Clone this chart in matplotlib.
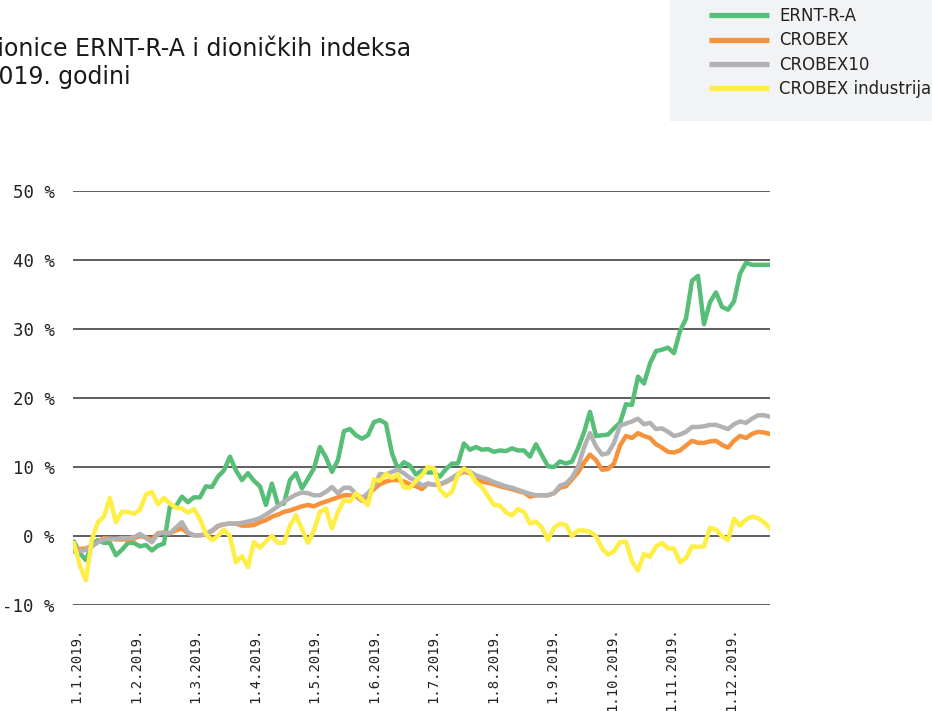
import numpy as np
import matplotlib
matplotlib.use('Agg')
import matplotlib.pyplot as plt
from matplotlib.patches import Rectangle

plt.rcParams['axes.unicode_minus'] = False

# monthly category labels (equal spacing, ~21 trading days each)
months = ['1.1.2019.', '1.2.2019.', '1.3.2019.', '1.4.2019.', '1.5.2019.', '1.6.2019.',
          '1.7.2019.', '1.8.2019.', '1.9.2019.', '1.10.2019.', '1.11.2019.', '1.12.2019.']

# cumulative change in %, sampled roughly every two trading days
ernt = [-0.8, -2.5, -3.5, -1.2, -0.6, -1, -1, -2.8, -2, -1, -1, -1.5, -1.3, -2.1, -1.4, -1.1,
        4.3, 4.3, 5.7, 4.9, 5.6, 5.6, 7.2, 7.1, 8.6, 9.5, 11.5, 9.5, 8.1, 9.1, 8, 7.2,
        4.5, 7.6, 4.5, 4.7, 8.1, 9.1, 6.9, 8.3, 9.8, 12.9, 11.4, 9.3, 11, 15.2, 15.5, 14.6,
        14.1, 14.6, 16.5, 16.8, 16.3, 12, 9.7, 10.7, 10.2, 8.9, 9.5, 9.2, 9.2, 8.6, 9.7, 10.5,
        10.5, 13.4, 12.5, 12.9, 12.5, 12.6, 12.2, 12.4, 12.3, 12.7, 12.4, 12.4, 11.5, 13.3, 11.7, 10.1,
        10, 10.8, 10.5, 10.8, 12.7, 15, 18, 14.5, 14.6, 14.7, 15.6, 16.4, 19.1, 19, 23.1, 22.1,
        25, 26.8, 27, 27.3, 26.5, 29.7, 31.5, 37, 37.7, 30.7, 33.9, 35.3, 33.2, 32.8, 34, 38,
        39.6, 39.3, 39.3, 39.3, 39.3]
crobex = [-2, -1.9, -1.8, -1.4, -0.9, -0.3, -0.4, -0.5, -0.5, -0.5, -0.4, 0, -0.2, -0.5, 0.4, 0.5,
          0.4, 0.8, 1.1, 0.4, 0.1, 0.1, 0.2, 0.7, 1.4, 1.7, 1.8, 1.8, 1.5, 1.5, 1.6, 2,
          2.3, 2.8, 3.1, 3.5, 3.7, 4, 4.3, 4.5, 4.3, 4.7, 5, 5.3, 5.6, 5.9, 5.9, 5.8,
          5.1, 5.9, 6.8, 7.5, 7.9, 8.1, 8.1, 7.9, 7.5, 7.2, 6.8, 7.6, 7.4, 7.5, 7.8, 8.3,
          8.9, 9.3, 9.1, 8.3, 7.9, 7.7, 7.5, 7.2, 7, 6.8, 6.5, 6.3, 5.7, 5.9, 5.9, 5.9,
          6.2, 7, 7.2, 8.2, 9.2, 10.6, 11.8, 11, 9.6, 9.7, 10.5, 13.1, 14.5, 14.2, 14.9, 14.5,
          14.2, 13.3, 12.8, 12.2, 12.1, 12.4, 13.1, 13.8, 13.5, 13.5, 13.7, 13.8, 13.2, 12.8, 13.8, 14.5,
          14.2, 14.8, 15.1, 15, 14.8]
crobex10 = [-2.3, -2.2, -2, -1.5, -0.9, -0.5, -0.4, -0.4, -0.3, -0.3, -0.2, 0.3, -0.3, -0.9, 0.3, 0.5,
            0.4, 1.2, 2, 0.5, 0.1, 0.1, 0.3, 0.8, 1.5, 1.7, 1.8, 1.8, 1.9, 2.1, 2.3, 2.6,
            3.1, 3.7, 4.3, 5, 5.5, 6, 6.3, 6.2, 5.9, 5.9, 6.4, 7.1, 6.2, 7, 7, 6.1,
            5.5, 6.2, 7.2, 9, 8.9, 9.3, 9.6, 9.1, 8.4, 8, 7.3, 7.6, 7.4, 7.5, 7.9, 8.4,
            9, 9.5, 9.3, 8.8, 8.5, 8.2, 7.8, 7.5, 7.2, 7, 6.7, 6.4, 6.1, 5.9, 5.9, 5.9,
            6.2, 7.3, 7.6, 8.5, 10, 12.8, 14.9, 13, 11.8, 12, 13.5, 16, 16.3, 16.6, 17, 16.2,
            16.4, 15.5, 15.6, 15.1, 14.5, 14.7, 15.1, 15.8, 15.8, 15.9, 16.1, 16.1, 15.8, 15.5, 16.2, 16.6,
            16.4, 17, 17.5, 17.5, 17.3]
industrija = [-1, -4.3, -6.4, -0.5, 2, 2.8, 5.5, 2, 3.5, 3.5, 3.2, 3.8, 6, 6.4, 4.6, 5.5,
              4.7, 4.1, 4, 3.4, 3.9, 2.5, 0.3, -0.6, 0, 0.9, 0, -3.8, -2.9, -4.5, -0.9, -1.7,
              -0.8, 0, -1, -1, 1.5, 3, 1, -1, 0.8, 3.5, 4, 1.1, 3.5, 5.2, 5, 6.2,
              5.3, 4.5, 8.2, 8, 9, 8.4, 8.9, 7, 7, 8, 8.8, 10, 9.8, 6.7, 5.8, 6.4,
              8.9, 9.8, 9.2, 7.8, 7.1, 5.8, 4.5, 4.4, 3.4, 3, 3.9, 3.5, 1.8, 2.1, 1.2, -0.6,
              1.2, 1.8, 1.6, 0, 0.8, 0.8, 0.6, 0, -1.8, -2.7, -2.2, -0.9, -0.8, -3.7, -5, -2.6,
              -3, -1.5, -1, -1.8, -1.8, -3.8, -3.2, -1.5, -1.6, -1.5, 1.2, 0.9, 0, -0.6, 2.5, 1.5,
              2.4, 2.8, 2.6, 2, 1.1]

series = [('ERNT-R-A', ernt, '#57be78'),
          ('CROBEX', crobex, '#f7923a'),
          ('CROBEX10', crobex10, '#b2b2b4'),
          ('CROBEX industrija', industrija, '#ffee45')]

fig = plt.figure(figsize=(9.32, 7.11), dpi=100)
ax = fig.add_axes([73 / 932, 1 - 605 / 711, 697 / 932, 414 / 711])

for name, vals, col in series:
    ax.plot(np.arange(len(vals)), vals, color=col, lw=3.2, label=name,
            solid_joinstyle='round', solid_capstyle='round')

ax.set_ylim(-10, 50)
ax.set_xlim(-0.15, 116)
ax.set_yticks(range(-10, 51, 10))
ax.set_yticklabels(['%d %%' % v for v in range(-10, 51, 10)],
                   family='DejaVu Sans Mono', fontsize=12.5, color='#222222')
ax.set_xticks([0.4 + 9.92 * i for i in range(len(months))])
ax.set_xticklabels(months, rotation=90, family='DejaVu Sans Mono', fontsize=10,
                   color='#222222', va='top')
ax.tick_params(axis='both', length=0)
ax.tick_params(axis='y', pad=13)
ax.tick_params(axis='x', pad=16)
for s in ax.spines.values():
    s.set_visible(False)
ax.grid(axis='y', color='#333333', lw=1.1)
ax.set_axisbelow(True)

# legend panel (top right)
fig.patches.append(Rectangle((670 / 932, 1 - 120 / 711), 262 / 932, 120 / 711,
                             transform=fig.transFigure, color='#f2f3f5', zorder=0))
leg = fig.legend(loc='upper left', bbox_to_anchor=(709 / 932, 1 - 7 / 711), frameon=False,
                 prop={'family': 'DejaVu Sans', 'size': 12}, handlelength=3.6, handletextpad=0.6,
                 labelspacing=0.38, borderpad=0, borderaxespad=0)
for t in leg.get_texts():
    t.set_color('#222222')
for h in leg.get_lines():
    h.set_linewidth(3.8)
    h.set_solid_capstyle('butt')

# title (left part falls outside the canvas, as in the original)
fig.text(411 / 932, 1 - 56 / 711, 'Kretanje cijene dionice ERNT-R-A i dioničkih indeksa',
         ha='right', va='baseline', family='DejaVu Sans', fontsize=17, color='#1a1a1a')
fig.text(131 / 932, 1 - 84 / 711, 'u 2019. godini',
         ha='right', va='baseline', family='DejaVu Sans', fontsize=17, color='#1a1a1a')

fig.savefig('out.png', dpi=100)
